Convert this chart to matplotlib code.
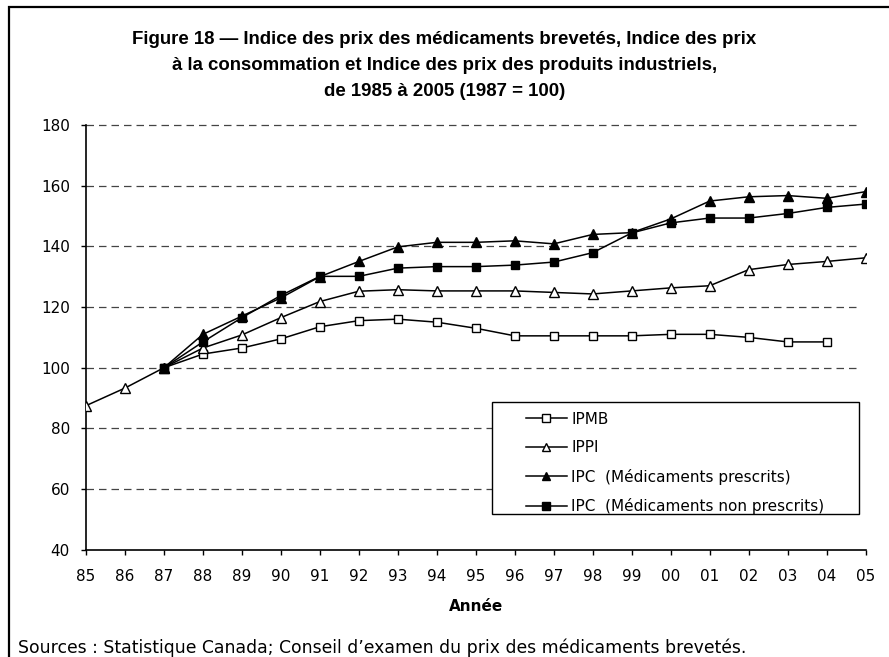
import numpy as np
import matplotlib.pyplot as plt
from matplotlib.patches import Rectangle

# =========================
# Data
# =========================
years = list(range(1985, 2006))
year_labels = ["85", "86", "87", "88", "89", "90", "91", "92", "93", "94", "95",
               "96", "97", "98", "99", "00", "01", "02", "03", "04", "05"]

ipmb_years = list(range(1987, 2005))
ipmb = [100, 104.5, 106.5, 109.5, 113.5, 115.5, 116, 115, 113, 110.5,
        110.5, 110.5, 110.5, 111, 111, 110, 108.5, 108.5]

ippi_years = list(range(1985, 2006))
ippi = [87.5, 93.3, 100, 106.5, 110.8, 116.5, 121.8, 125.2, 125.7, 125.3,
        125.3, 125.3, 124.8, 124.3, 125.3, 126.3, 127, 132.3, 134, 135, 136.2]

ipc_rx_years = list(range(1987, 2006))
ipc_rx = [100, 111, 117, 123, 130, 135, 139.8, 141.3, 141.3, 141.8,
          140.8, 143.9, 144.5, 149, 154.9, 156.3, 156.7, 155.8, 158]

ipc_otc_years = list(range(1987, 2006))
ipc_otc = [100, 108.5, 116.5, 123.8, 130.1, 130.1, 132.8, 133.3, 133.3, 133.8,
           134.8, 137.9, 144.4, 147.7, 149.3, 149.3, 150.8, 152.8, 153.9]

plt.rcParams["font.family"] = ["DejaVu Sans"]

fig = plt.figure(figsize=(8.89, 6.57), dpi=100)
ax = fig.add_axes([0.0967, 0.163, 0.877, 0.647])

# -------------------------
# Series
# -------------------------
ax.plot(ipmb_years, ipmb, color="black", lw=1.1, marker="s", ms=6,
        mfc="white", mec="black", mew=1.0, label="IPMB", zorder=3)
ax.plot(ippi_years, ippi, color="black", lw=1.1, marker="^", ms=7,
        mfc="white", mec="black", mew=1.0, label="IPPI", zorder=3)
ax.plot(ipc_rx_years, ipc_rx, color="black", lw=1.1, marker="^", ms=7,
        mfc="black", mec="black", label="IPC  (Médicaments prescrits)", zorder=4)
ax.plot(ipc_otc_years, ipc_otc, color="black", lw=1.1, marker="s", ms=6,
        mfc="black", mec="black", label="IPC  (Médicaments non prescrits)", zorder=4)

# -------------------------
# Axes styling
# -------------------------
ax.set_xlim(1985, 2005)
ax.set_ylim(40, 180)
ax.set_yticks(range(40, 181, 20))
ax.set_xticks(years)
ax.set_xticklabels(year_labels)
ax.tick_params(axis="both", labelsize=11, direction="out", length=3.5,
               width=1, colors="black")
ax.tick_params(axis="y", pad=8)
ax.tick_params(axis="x", pad=10)

for y in range(60, 181, 20):
    ax.plot([1985, 2004.8], [y, y], color="#444444", lw=0.9,
            ls=(0, (6, 4)), zorder=1, clip_on=False)

for side in ["top", "right"]:
    ax.spines[side].set_visible(False)
ax.spines["left"].set_linewidth(1.2)
ax.spines["bottom"].set_linewidth(1.2)

ax.set_xlabel("Année", fontsize=11, fontweight="bold", labelpad=11)

# legend: frame drawn separately to get the wide side padding
ax.add_patch(Rectangle((0.521, 0.085), 0.471, 0.264, transform=ax.transAxes,
                       facecolor="white", edgecolor="black", lw=1.0,
                       zorder=5, clip_on=False))
leg = ax.legend(loc="lower left", bbox_to_anchor=(0.555, 0.068),
                fontsize=11, frameon=False, handlelength=2.7,
                labelspacing=0.88, borderpad=0.45, handletextpad=0.3,
                borderaxespad=0, markerscale=0.85)
leg.set_zorder(6)

# -------------------------
# Title, source, border
# -------------------------
fig.text(0.5, 0.953,
         "Figure 18 — Indice des prix des médicaments brevetés, Indice des prix\n"
         "à la consommation et Indice des prix des produits industriels,\n"
         "de 1985 à 2005 (1987 = 100)",
         ha="center", va="top", fontsize=13.4, fontweight="bold",
         family=["Liberation Sans", "DejaVu Sans"], linespacing=1.68)

fig.text(0.02, 0.0,
         "Sources : Statistique Canada; Conseil d’examen du prix des médicaments brevetés.",
         ha="left", va="bottom", fontsize=12.4)

fig.patches.append(Rectangle((0.0105, -0.02), 1.0, 1.01, transform=fig.transFigure,
                             fill=False, edgecolor="black", lw=1.6))

fig.savefig("out.png", dpi=100)
